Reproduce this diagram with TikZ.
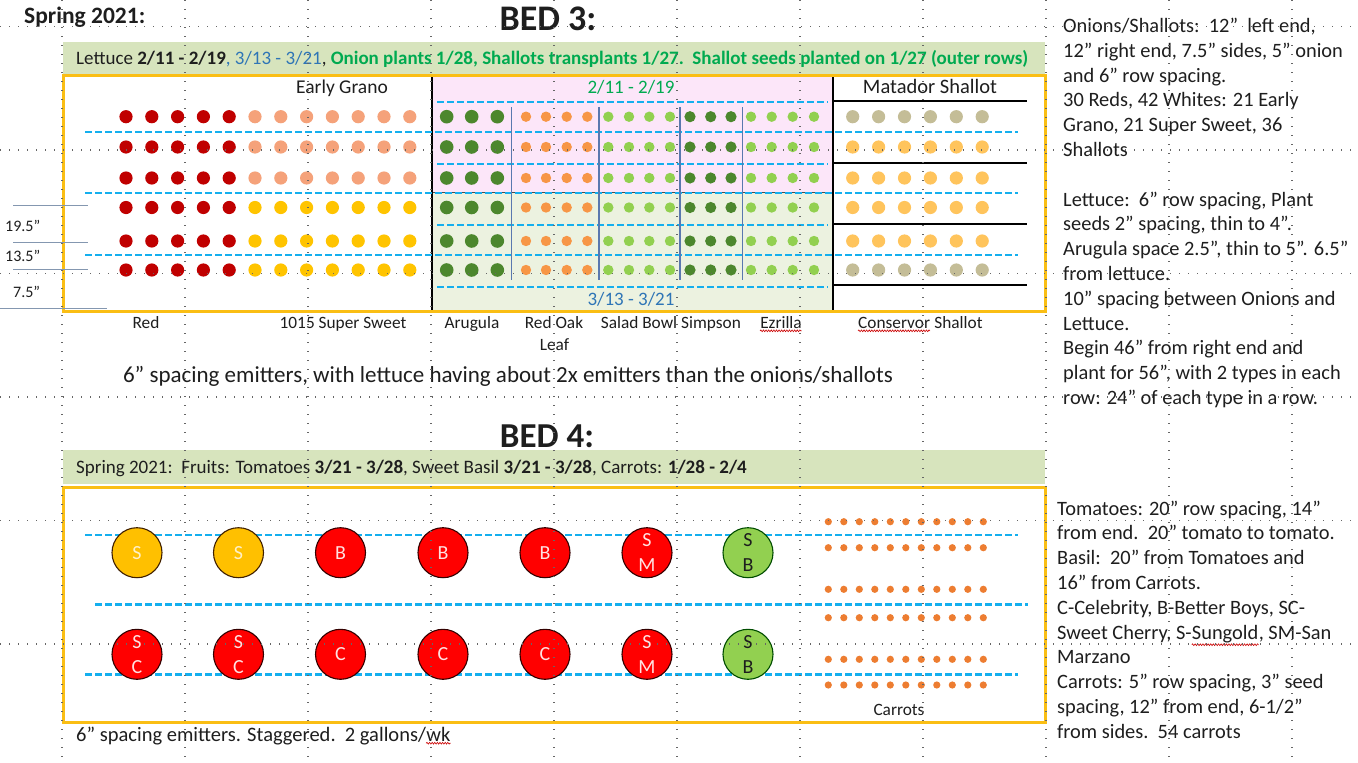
\documentclass[tikz,border=0pt]{standalone}
\usepackage{fontspec}
\setmainfont{Carlito}
\usetikzlibrary{decorations.pathmorphing}
\definecolor{txtc}{RGB}{30,30,30}
\definecolor{barg}{RGB}{215,228,189}
\definecolor{bedc}{RGB}{250,190,20}
\definecolor{pinkf}{RGB}{252,230,249}
\definecolor{lgf}{RGB}{236,242,224}
\definecolor{irrc}{RGB}{20,175,238}
\definecolor{blu}{RGB}{46,117,182}
\definecolor{grn}{RGB}{0,170,80}
\definecolor{onr}{RGB}{192,0,0}
\definecolor{ons}{RGB}{245,162,122}
\definecolor{ony}{RGB}{255,196,0}
\definecolor{dkg}{RGB}{76,135,45}
\definecolor{lgr}{RGB}{146,208,80}
\definecolor{rok}{RGB}{247,150,70}
\definecolor{shg}{RGB}{196,189,151}
\definecolor{sho}{RGB}{255,196,92}
\definecolor{car}{RGB}{237,125,49}
\definecolor{sepc}{RGB}{90,120,175}
\definecolor{mes}{RGB}{132,151,176}
\definecolor{tred}{RGB}{255,0,0}
\definecolor{tgold}{RGB}{255,192,0}
\definecolor{tgtx}{RGB}{255,240,200}
\definecolor{trtx}{RGB}{255,225,225}
\newcommand\myfs[2]{\fontsize{#1}{#2}\selectfont}
\begin{document}
\begin{tikzpicture}[x=1pt,y=-1pt,
  txt/.style={inner sep=0pt, text=txtc, font=\myfs{16}{19}},
  rtxt/.style={inner sep=0pt, text=txtc, font=\myfs{20.4}{24.8}, anchor=base west},
  lbl/.style={inner sep=0pt, text=txtc, font=\myfs{17.3}{20}, anchor=base},
  irr/.style={draw=irrc, line width=2.6pt, dash pattern=on 7pt off 3pt},
  gridl/.style={draw=black!60, line width=1.2pt, dash pattern=on 1.2pt off 7.8pt},
  tom/.style={circle, draw=black!80!red, line width=1.1pt, minimum size=50pt, inner sep=0pt, font=\myfs{20}{25}, align=center},
  squig/.style={draw=red!80!black, line width=0.6pt, decorate, decoration={snake, amplitude=0.9pt, segment length=2.6pt}},
  mline/.style={draw=mes, line width=1.5pt},
  blk/.style={draw=black, line width=2.2pt}]
\useasboundingbox[fill=white] (0,0) rectangle (1358,763);

% ---------------- BED 3 ----------------
\node[txt, font=\bfseries\myfs{23.5}{26}, anchor=base west] (spring) at (24,23) {Spring 2021:};
\node[txt, font=\bfseries\myfs{36}{40}, anchor=base] (bed3) at (548,30) {BED 3:};
\fill[barg] (63,42) rectangle (1045,74);
\node[txt, anchor=base west, font=\myfs{19}{22}] (hdr3) at (76,64) {Lettuce \textbf{2/11 - 2/19}\textcolor{blu}{, 3/13 - 3/21},\textcolor{grn}{\textbf{ Onion plants 1/28, Shallots transplants 1/27.\ \ Shallot seeds planted on 1/27 (outer rows)}}};

\fill[pinkf] (432,75) rectangle (833,192);
\fill[lgf] (432,192) rectangle (833,311);
\draw[black!70, line width=0.8pt] (432,192) -- (833,192);
\draw[black, line width=1.3pt] (432,75) -- (432,311);
\draw[black, line width=1.3pt] (833,75) -- (833,311);

% irrigation lines bed 3
\foreach \yy in {132,193,255} \draw[irr] (85,\yy) -- (1018,\yy);
\foreach \yy in {102,164,225,287} \draw[irr] (437,\yy) -- (828,\yy);

% onions
\foreach \yy in {116.7,147,178,207.5,241,270} \foreach \i in {0,...,4} \fill[onr] (126+25.8*\i,\yy) circle[radius=6.6pt];
\foreach \yy in {116.7,147,178} \foreach \i in {5,...,11} \fill[ons] (126+25.8*\i,\yy) circle[radius=6.6pt];
\foreach \yy in {207.5,241,270} \foreach \i in {5,...,11} \fill[ony] (126+25.8*\i,\yy) circle[radius=6.6pt];

% lettuce
\foreach \yy in {116.7,147,178,207.5,241,270} {
  \foreach \xx in {446.7,471.7,497.3} \fill[dkg] (\xx,\yy) circle[radius=6.8pt];
  \foreach \xx in {526,546,566.7,587.3} \fill[rok] (\xx,\yy) circle[radius=5.2pt];
  \foreach \xx in {608.3,629,649.3,670} \fill[lgr] (\xx,\yy) circle[radius=5.2pt];
  \foreach \xx in {690,710.7,731} \fill[dkg] (\xx,\yy) circle[radius=5.6pt];
  \foreach \xx in {751,771.7,792.7,814} \fill[lgr] (\xx,\yy) circle[radius=5.2pt];
}
\foreach \xx in {511.7,599,680,742.3} \draw[sepc, line width=1.3pt] (\xx,107) -- (\xx,280);

% shallots
\foreach \yy in {116.7,270} \foreach \i in {0,...,5} \fill[shg] (852.7+25.9*\i,\yy) circle[radius=6.6pt];
\foreach \yy in {147,178,207.5,241} \foreach \i in {0,...,5} \fill[sho] (852.7+25.9*\i,\yy) circle[radius=6.6pt];
\foreach \yy in {100.7,162.7,224,285} \draw[blk] (833,\yy) -- (1027,\yy);

\draw[bedc, line width=3pt] (63,75) rectangle (1045,311);

\node[lbl, font=\myfs{19.5}{22}] (eg) at (342,93) {Early Grano};
\node[lbl, font=\myfs{19}{22}, text=grn] (d1) at (631,93.5) {2/11 - 2/19};
\node[lbl, font=\myfs{19}{22}, text=blu] (d2) at (631,305) {3/13 - 3/21};
\node[lbl, font=\myfs{20.5}{24}] (mat) at (930,93) {Matador Shallot};

\node[lbl] (red) at (146,328) {Red};
\node[lbl] (ss) at (343,328) {1015 Super Sweet};
\node[lbl] (aru) at (472,328) {Arugula};
\node[lbl] (rol) at (554,328) {Red Oak};
\node[lbl] (leaf) at (554.5,350) {Leaf};
\node[lbl] (sb) at (639,328) {Salad Bowl};
\node[lbl] (simp) at (711,328) {Simpson};
\node[lbl] (ezr) at (781,328) {Ezrilla};
\draw[squig] ([yshift=-2.5pt]ezr.south west) -- ([yshift=-2.5pt]ezr.south east);
\node[lbl, anchor=base west] (cons) at (858,328) {Conservor};
\node[lbl, anchor=base west] (cshal) at ([xshift=4pt]cons.base east) {Shallot};
\draw[squig] ([yshift=-2.5pt]cons.south west) -- ([yshift=-2.5pt]cons.south east);

\node[txt, font=\myfs{23}{26}, anchor=base] (note3) at (508,382) {6” spacing emitters, with lettuce having about 2x emitters than the onions/shallots};

% measurement marks
\draw[mline] (13,205.7) -- (88,205.7);
\draw[mline] (13,242.3) -- (88,242.3);
\draw[mline] (13,269.3) -- (88,269.3);
\draw[mline] (0,308.5) -- (107,308.5);
\node[txt, anchor=base west] (m1) at (5,231) {19.5”};
\node[txt, anchor=base west] (m2) at (5,261.5) {13.5”};
\node[txt, anchor=base west] (m3) at (13,297) {7.5”};

% right notes bed 3
\foreach \k/\t in {0/{Onions/Shallots:\ \ 12”\ \ left end,},1/{12” right end, 7.5” sides, 5” onion},2/{and 6” row spacing.},3/{30 Reds, 42 Whites: 21 Early},4/{Grano, 21 Super Sweet, 36},5/{Shallots},7/{Lettuce:\ \ 6” row spacing, Plant},8/{seeds 2” spacing, thin to 4”.},9/{Arugula space 2.5”, thin to 5”. 6.5”},10/{from lettuce.},11/{10” spacing between Onions and},12/{Lettuce.},13/{Begin 46” from right end and},14/{plant for 56”, with 2 types in each},15/{row: 24” of each type in a row.}}
  \node[rtxt] (r3l\k) at (1063,32.5+24.8*\k) {\t};

% ---------------- BED 4 ----------------
\node[txt, font=\bfseries\myfs{35}{40}, anchor=base] (bed4) at (547,447) {BED 4:};
\fill[barg] (63,450) rectangle (1045,484);
\node[txt, anchor=base west, font=\myfs{19}{22}] (hdr4) at (76,473) {Spring 2021:\ \ Fruits: Tomatoes \textbf{3/21 - 3/28}, Sweet Basil \textbf{3/21 - 3/28}, Carrots: \textbf{1/28 - 2/4}};

\draw[irr] (85,535) -- (1018,535);
\draw[irr] (95,604.5) -- (1028,604.5);
\draw[irr] (85,674.5) -- (1018,674.5);

\foreach \yy in {521.7,547.7,589.3,617.7,659.3,685} \foreach \i in {0,...,10} \fill[car] (828.3+15.5*\i,\yy) circle[radius=3.6pt];

\node[tom, fill=tgold, draw=black!75!orange, text=tgtx] (t1) at (137,552.7) {S};
\node[tom, fill=tgold, draw=black!75!orange, text=tgtx] (t2) at (238.5,552.7) {S};
\node[tom, fill=tred, text=trtx] (t3) at (340.5,552.7) {B};
\node[tom, fill=tred, text=trtx] (t4) at (443,552.7) {B};
\node[tom, fill=tred, text=trtx] (t5) at (545,552.7) {B};
\node[tom, fill=tred, text=trtx] (t6) at (647,552.7) {S\\M};
\node[tom, fill=lgr, draw=black!70!green, text=txtc] (t7) at (748,552.7) {S\\B};
\node[tom, fill=tred, text=trtx] (u1) at (137,654.3) {S\\C};
\node[tom, fill=tred, text=trtx] (u2) at (238.5,654.3) {S\\C};
\node[tom, fill=tred, text=trtx] (u3) at (340.5,654.3) {C};
\node[tom, fill=tred, text=trtx] (u4) at (443,654.3) {C};
\node[tom, fill=tred, text=trtx] (u5) at (545,654.3) {C};
\node[tom, fill=tred, text=trtx] (u6) at (647,654.3) {S\\M};
\node[tom, fill=lgr, draw=black!70!green, text=txtc] (u7) at (748,654.3) {S\\B};

\draw[bedc, line width=3pt] (63,487) rectangle (1045,722);
\node[lbl] (carl) at (899,715) {Carrots};

\node[txt, anchor=base west, font=\myfs{20.5}{24}] (note4) at (76,741) {6” spacing emitters. Staggered.\ \ 2 gallons/};
\node[txt, anchor=base west, font=\myfs{20.5}{24}] (wk) at (note4.base east) {wk};
\draw[squig] ([yshift=-2pt]wk.south west) -- ([yshift=-2pt]wk.south east);

% right notes bed 4
\foreach \k/\t in {0/{Tomatoes: 20” row spacing, 14”},1/{from end.\ \ 20” tomato to tomato.},2/{Basil:\ \ 20” from Tomatoes and},3/{16” from Carrots.},4/{C-Celebrity, B-Better Boys, SC-},6/{Marzano},7/{Carrots: 5” row spacing, 3” seed},8/{spacing, 12” from end, 6-1/2”},9/{from sides.\ \ 54 carrots}}
  \node[rtxt] (r4l\k) at (1057,515+24.8*\k) {\t};
\node[rtxt] (r4l5a) at (1057,515+24.8*5) {Sweet Cherry, S-};
\node[rtxt] (r4l5b) at (r4l5a.base east) {Sungold};
\node[rtxt] (r4l5c) at (r4l5b.base east) {, SM-San};
\draw[squig] ([yshift=-2pt]r4l5b.south west) -- ([yshift=-2pt]r4l5b.south east);

% ---------------- sheet grid ----------------
\foreach \i in {0,...,10} \draw[gridl] (62+123*\i,0) -- (62+123*\i,763);
\foreach \j in {0,...,6} \draw[gridl] (0,26.5+123.5*\j) -- (1358,26.5+123.5*\j);
\end{tikzpicture}
\end{document}
